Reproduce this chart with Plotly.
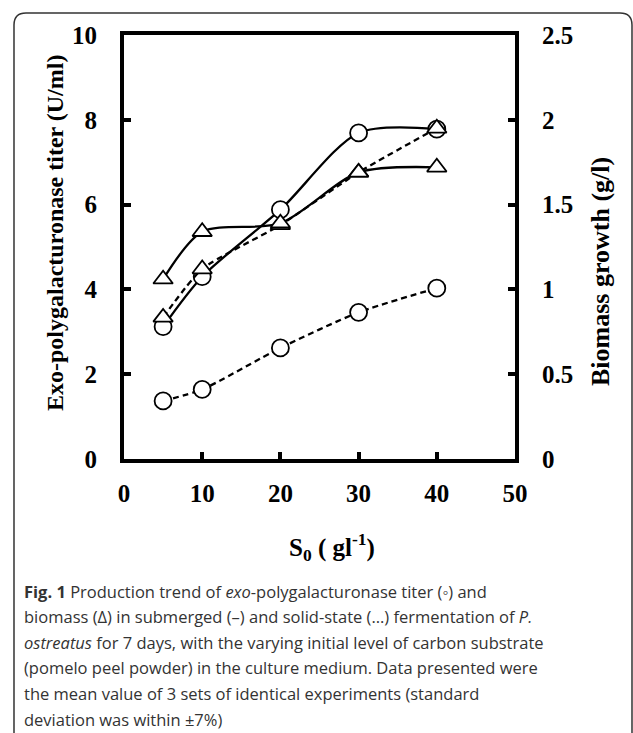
import plotly.graph_objects as go

# ---------------- data ----------------
s0 = [5, 10, 20, 30, 40]
titer_submerged = [3.12, 4.30, 5.88, 7.69, 7.78]      # U/ml, open circles, solid line
titer_solid_state = [1.37, 1.64, 2.62, 3.46, 4.03]    # U/ml, open circles, dashed line
biomass_submerged = [1.06, 1.34, 1.39, 1.69, 1.72]    # g/l, triangles, solid line
biomass_solid_state = [0.835, 1.12, 1.38, 1.69, 1.95] # g/l, triangles, dashed line

x_ticks = [0, 10, 20, 30, 40, 50]
y_ticks = [0, 2, 4, 6, 8, 10]
y2_ticks = [0, 0.5, 1, 1.5, 2, 2.5]
y2_ticktext = ["0", "0.5", "1", "1.5", "2", "2.5"]

caption_lines = [
    "<b>Fig. 1</b> Production trend of <i>exo</i>-polygalacturonase titer (◦) and",
    "biomass (Δ) in submerged (–) and solid-state (…) fermentation of <i>P.</i>",
    "<i>ostreatus</i> for 7 days, with the varying initial level of carbon substrate",
    "(pomelo peel powder) in the culture medium. Data presented were",
    "the mean value of 3 sets of identical experiments (standard",
    "deviation was within ±7%)",
]

# ---------------- layout geometry (pixels) ----------------
W, H = 633, 733
L, R, T, B = 124, 515, 35, 459


def px(x, y):
    return (x - L) / (R - L), (B - y) / (B - T)


SERIF = "Liberation Serif, Times New Roman, serif"
SANS = "Open Sans, Noto Sans, sans-serif"

fig = go.Figure()

marker_circle = dict(symbol="circle", size=17, color="white",
                     line=dict(color="black", width=1.8))
marker_tri = dict(symbol="triangle-up", size=17, color="white",
                  line=dict(color="black", width=1.8))

fig.add_trace(go.Scatter(x=s0, y=titer_solid_state, mode="lines+markers",
                         line=dict(color="black", width=2.3, dash="6px,4px",
                                   shape="spline", smoothing=0.6),
                         marker=marker_circle, yaxis="y"))
fig.add_trace(go.Scatter(x=s0, y=titer_submerged, mode="lines+markers",
                         line=dict(color="black", width=2.3, shape="spline", smoothing=0.8),
                         marker=marker_circle, yaxis="y"))
fig.add_trace(go.Scatter(x=s0, y=biomass_solid_state, mode="lines+markers",
                         line=dict(color="black", width=2.3, dash="6px,4px",
                                   shape="spline", smoothing=0.6),
                         marker=marker_tri, yaxis="y2"))
fig.add_trace(go.Scatter(x=s0, y=biomass_submerged, mode="lines+markers",
                         line=dict(color="black", width=2.3, shape="spline", smoothing=0.8),
                         marker=marker_tri, yaxis="y2"))

tickfont = dict(family=SERIF, size=25, color="black", weight="bold")

fig.update_layout(
    width=W, height=H,
    margin=dict(l=L, r=W - R, t=T, b=H - B, pad=0),
    paper_bgcolor="white", plot_bgcolor="white",
    showlegend=False,
    xaxis=dict(range=[0, 50], tickvals=x_ticks, ticks="inside", ticklen=7, tickwidth=4,
               tickcolor="black", showline=True, linecolor="black", linewidth=4,
               mirror=True, showgrid=False, zeroline=False, tickfont=tickfont,
               ticklabelstandoff=9),
    yaxis=dict(range=[0, 10], tickvals=y_ticks, ticks="inside", ticklen=7, tickwidth=4,
               tickcolor="black", showline=True, linecolor="black", linewidth=4,
               mirror=True, showgrid=False, zeroline=False, tickfont=tickfont,
               ticklabelstandoff=18),
    yaxis2=dict(range=[0, 2.5], tickvals=y2_ticks, ticktext=y2_ticktext, overlaying="y",
                side="right", ticks="inside", ticklen=7, tickwidth=4, tickcolor="black",
                showline=True, linecolor="black", linewidth=4, showgrid=False,
                zeroline=False, tickfont=tickfont, ticklabelstandoff=18),
)

annotations = []
# axis titles
ax, ay = px(332, 547)
annotations.append(dict(text="S<sub>0</sub> ( gl<sup>-1</sup>)", x=ax, y=ay, xref="paper",
                        yref="paper", showarrow=False, xanchor="center", yanchor="middle",
                        font=dict(family=SERIF, size=25, color="black", weight="bold")))
ax, ay = px(55, 233)
annotations.append(dict(text="Exo-polygalacturonase titer (U/ml)", x=ax, y=ay, xref="paper",
                        yref="paper", showarrow=False, textangle=-90, xanchor="center",
                        yanchor="middle",
                        font=dict(family=SERIF, size=24, color="black", weight="bold")))
ax, ay = px(600, 272)
annotations.append(dict(text="Biomass growth (g/l)", x=ax, y=ay, xref="paper",
                        yref="paper", showarrow=False, textangle=-90, xanchor="center",
                        yanchor="middle",
                        font=dict(family=SERIF, size=26, color="black", weight="bold")))

# caption
for i, line in enumerate(caption_lines):
    cx, cy = px(22, 591 + i * 25.6)
    annotations.append(dict(text=line, x=cx, y=cy, xref="paper", yref="paper",
                            showarrow=False, xanchor="left", yanchor="middle",
                            font=dict(family=SANS, size=16.5, color="#333333")))
fig.update_layout(annotations=annotations)

# rounded border around the whole figure
x0, y0, x1, y1, r = 14, 13, 632, 745, 12
p = lambda x, y: "%.5f,%.5f" % px(x, y)
path = ("M " + p(x0, y1 - r) + " L " + p(x0, y0 + r) + " Q " + p(x0, y0) + " " + p(x0 + r, y0) +
        " L " + p(x1 - r, y0) + " Q " + p(x1, y0) + " " + p(x1, y0 + r) +
        " L " + p(x1, y1 - r) + " Q " + p(x1, y1) + " " + p(x1 - r, y1) +
        " L " + p(x0 + r, y1) + " Q " + p(x0, y1) + " " + p(x0, y1 - r) + " Z")
fig.add_shape(type="path", path=path, xref="paper", yref="paper",
              line=dict(color="#333333", width=1.5), fillcolor="rgba(0,0,0,0)", layer="below")

fig.write_html("out.html")
